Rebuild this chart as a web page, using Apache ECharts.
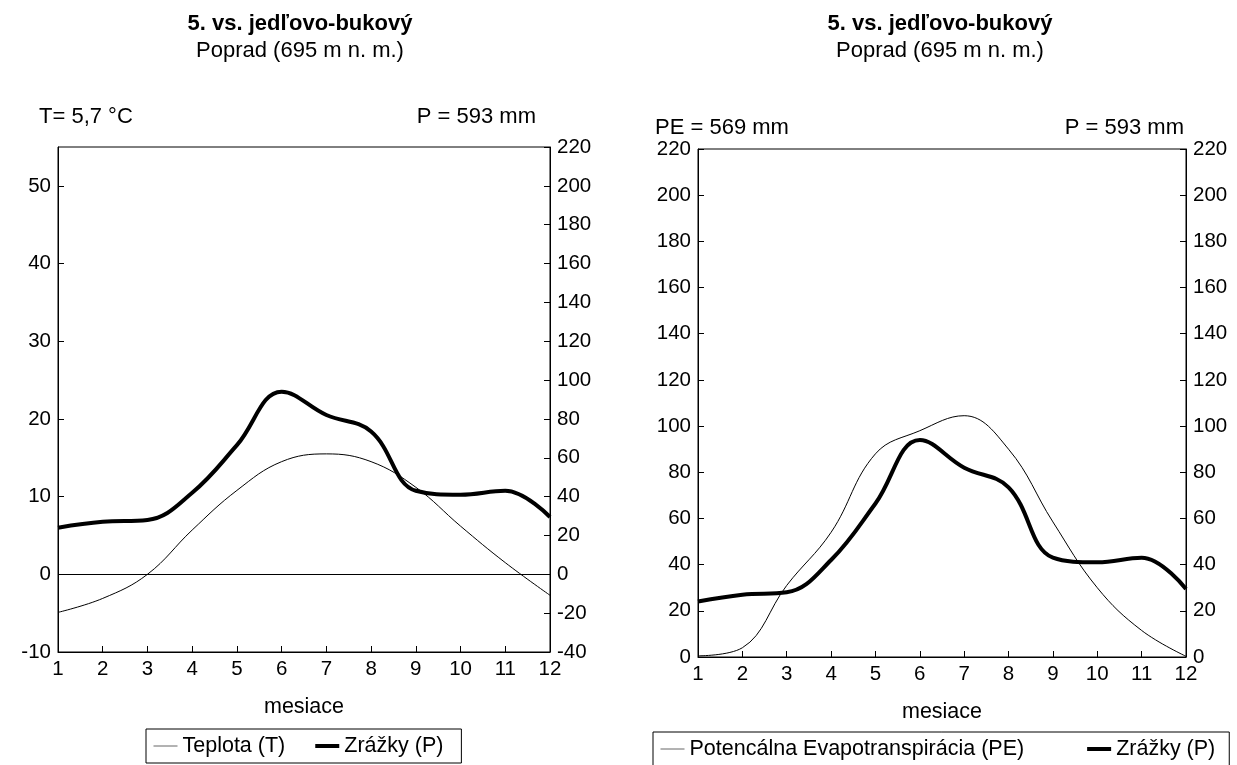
<!DOCTYPE html>
<html lang="sk">
<head>
    <meta charset="UTF-8">
    <title>Klimadiagram Poprad</title>
    <script src="https://cdn.jsdelivr.net/npm/echarts@6/dist/echarts.min.js"></script>
    <style>
        html, body { margin: 0; padding: 0; background: #fff; }
        #main { width: 1237px; height: 765px; }
    </style>
</head>
<body>
<div id="main"></div>
<script>
    // mesiace 1..12
    var mesiace = ['1', '2', '3', '4', '5', '6', '7', '8', '9', '10', '11', '12'];
    // teplota (°C)
    var teplota = [-4.9, -3.1, 0, 5.7, 10.8, 14.5, 15.5, 14.5, 11.2, 6.2, 1.5, -2.7];
    // zrazky (mm)
    var zrazky = [24, 27, 28, 42, 66.5, 94, 82, 73.5, 43, 41, 43, 29.5];
    // potencialna evapotranspiracia (mm)
    var evapo = [0.5, 4, 31, 54, 88, 98, 104.5, 90, 58.5, 30, 11.5, 0.3];

    var nadpis = '5. vs. jedľovo-bukový';
    var podnadpis = 'Poprad (695 m n. m.)';

    var FONT = '"Liberation Sans", Arial, sans-serif';
    var FS_TICK = 20.5;   // popisky osi
    var FS_TEXT = 21.5;   // legenda, nazov osi
    var FS_HEAD = 22;     // nadpisy a sucty

    var chart = echarts.init(document.getElementById('main'));

    function txt(x, y, s, align, bold) {
        return {
            type: 'text', x: x, y: y, silent: true,
            style: {
                text: s, fill: '#000', textAlign: align || 'left', textVerticalAlign: 'middle',
                font: (bold ? 'bold ' : '') + FS_HEAD + 'px ' + FONT
            }
        };
    }

    function xOs(grid) {
        return {
            type: 'category', gridIndex: grid, data: mesiace, boundaryGap: false,
            axisLine: {onZero: false, lineStyle: {color: '#000', width: 1}},
            axisTick: {inside: true, length: 6, lineStyle: {color: '#000'}},
            axisLabel: {color: '#000', fontSize: FS_TICK, fontFamily: FONT, margin: 7},
            splitLine: {show: false},
            name: 'mesiace', nameLocation: 'middle', nameGap: 44,
            nameTextStyle: {color: '#000', fontSize: FS_TEXT, fontFamily: FONT}
        };
    }

    function yOs(grid, pos, min, max, step, hideMax) {
        return {
            type: 'value', gridIndex: grid, position: pos, min: min, max: max, interval: step,
            axisLine: {show: true, onZero: false, lineStyle: {color: '#000', width: 1}},
            axisTick: {show: true, inside: true, length: 6, lineStyle: {color: '#000'}},
            axisLabel: {color: '#000', fontSize: FS_TICK, fontFamily: FONT, margin: 7, showMaxLabel: !hideMax},
            splitLine: {show: false}
        };
    }

    // legend icon: only the line, no marker
    var noMark = {color: 'rgba(0,0,0,0)', borderWidth: 0, opacity: 0};

    var option = {
        animation: false,
        backgroundColor: '#fff',
        grid: [
            {left: 58, top: 147, width: 492, height: 505, show: true, borderColor: '#000', borderWidth: 1},
            {left: 698, top: 149, width: 488, height: 508, show: true, borderColor: '#000', borderWidth: 1}
        ],
        xAxis: [xOs(0), xOs(1)],
        yAxis: [
            yOs(0, 'left', -10, 55, 10, true),
            yOs(0, 'right', -40, 220, 20, false),
            yOs(1, 'left', 0, 220, 20, false),
            yOs(1, 'right', 0, 220, 20, false)
        ],
        legend: [
            {
                left: 146, top: 729, orient: 'horizontal',
                padding: [6, 18, 6, 7], itemGap: 28, itemWidth: 24, itemHeight: 12,
                borderColor: '#000', borderWidth: 1, selectedMode: false,
                textStyle: {color: '#000', fontSize: FS_TEXT, fontFamily: FONT},
                data: [
                    {name: 'Teplota (T)', itemStyle: noMark, lineStyle: {color: '#666', width: 1}},
                    {name: 'Zrážky (P)', itemStyle: noMark, lineStyle: {color: '#000', width: 4}}
                ]
            },
            {
                left: 653, top: 732, orient: 'horizontal',
                padding: [6, 14, 6, 7], itemGap: 61, itemWidth: 24, itemHeight: 12,
                borderColor: '#000', borderWidth: 1, selectedMode: false,
                textStyle: {color: '#000', fontSize: FS_TEXT, fontFamily: FONT},
                data: [
                    {name: 'Potencálna Evapotranspirácia (PE)', itemStyle: noMark, lineStyle: {color: '#666', width: 1}},
                    {name: 'Zrážky (P)', itemStyle: noMark, lineStyle: {color: '#000', width: 4}}
                ]
            }
        ],
        graphic: [
            txt(300, 24, nadpis, 'center', true),
            txt(300, 51, podnadpis, 'center'),
            txt(940, 24, nadpis, 'center', true),
            txt(940, 51, podnadpis, 'center'),
            txt(39, 117, 'T= 5,7 °C', 'left'),
            txt(536, 117, 'P = 593 mm', 'right'),
            txt(655, 128, 'PE = 569 mm', 'left'),
            txt(1184, 128, 'P = 593 mm', 'right')
        ],
        series: [
            {
                name: 'Teplota (T)', type: 'line', xAxisIndex: 0, yAxisIndex: 0,
                data: teplota, smooth: 0.4, symbol: 'none',
                lineStyle: {color: '#000', width: 1}, itemStyle: {color: '#000'},
                markLine: {
                    silent: true, symbol: 'none', label: {show: false},
                    lineStyle: {color: '#000', width: 1, type: 'solid'},
                    data: [{yAxis: 0}]
                }
            },
            {
                name: 'Zrážky (P)', type: 'line', xAxisIndex: 0, yAxisIndex: 1,
                data: zrazky, smooth: 0.4, symbol: 'none',
                lineStyle: {color: '#000', width: 4}, itemStyle: {color: '#000'}
            },
            {
                name: 'Potencálna Evapotranspirácia (PE)', type: 'line', xAxisIndex: 1, yAxisIndex: 2,
                data: evapo, smooth: 0.4, symbol: 'none',
                lineStyle: {color: '#000', width: 1}, itemStyle: {color: '#000'}
            },
            {
                name: 'Zrážky (P)', type: 'line', xAxisIndex: 1, yAxisIndex: 3,
                data: zrazky, smooth: 0.4, symbol: 'none',
                lineStyle: {color: '#000', width: 4}, itemStyle: {color: '#000'}
            }
        ]
    };

    chart.setOption(option);
</script>
</body>
</html>
